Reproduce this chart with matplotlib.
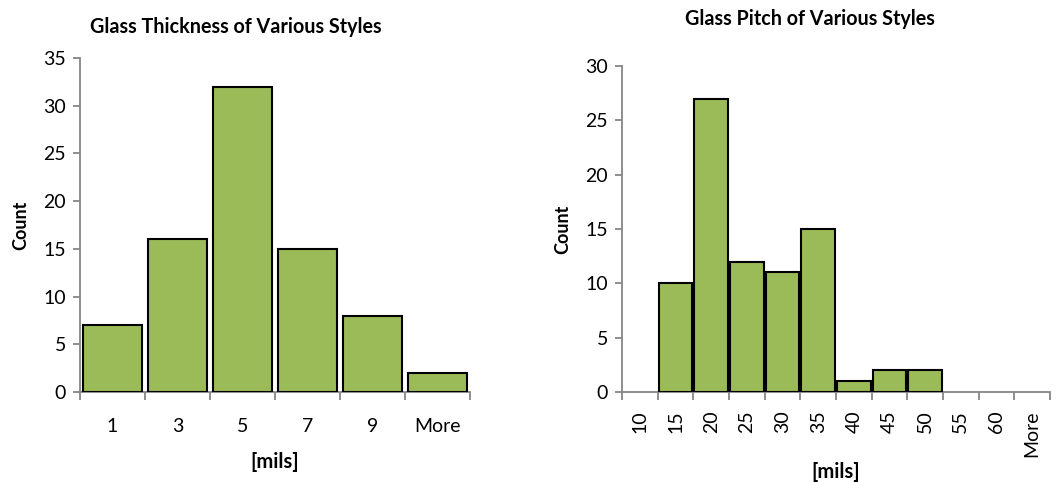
import matplotlib
matplotlib.use('Agg')
import matplotlib.pyplot as plt
import numpy as np

plt.rcParams['font.family'] = ['Lato', 'DejaVu Sans']

# left chart: glass thickness
thick_bins = ['1', '3', '5', '7', '9', 'More']
thick_counts = [7, 16, 32, 15, 8, 2]

# right chart: glass pitch
pitch_bins = ['10', '15', '20', '25', '30', '35', '40', '45', '50', '55', '60', 'More']
pitch_counts = [0, 10, 27, 12, 11, 15, 1, 2, 2, 0, 0, 0]

bar_color = '#9BBB59'
axis_color = '#868686'

fig = plt.figure(figsize=(10.57, 4.82), dpi=100)
W, H = 1057, 482

def style_axes(ax, n, labels, ymax, rot, pad):
    for s in ['top', 'right']:
        ax.spines[s].set_visible(False)
    for s in ['left', 'bottom']:
        ax.spines[s].set_color(axis_color)
        ax.spines[s].set_linewidth(1.3)
    ax.set_xlim(-0.5, n - 0.5)
    ax.set_ylim(0, ymax)
    ax.set_yticks(np.arange(0, ymax + 1, 5))
    ax.tick_params(axis='y', length=5, width=1.3, color=axis_color, labelsize=14, pad=5)
    # category labels at centres, tick marks at the boundaries
    ax.set_xticks(np.arange(n))
    ax.set_xticklabels(labels, rotation=rot)
    ax.tick_params(axis='x', which='major', length=0, labelsize=14, pad=pad)
    ax.set_xticks(np.arange(n + 1) - 0.5, minor=True)
    ax.tick_params(axis='x', which='minor', length=6, width=1.3, color=axis_color)
    ax.set_ylabel('Count', fontsize=13, fontweight='bold', labelpad=10)
    ax.set_xlabel('[mils]', fontsize=14.5, fontweight='bold')

def draw_bars(ax, counts, width):
    x = np.arange(len(counts))
    lw = [1.5 if c > 0 else 0 for c in counts]
    ax.bar(x, counts, width=width, color=bar_color, edgecolor='black', linewidth=lw, zorder=3)

# Left chart
ax1 = fig.add_axes([80 / W, 1 - 392 / H, 390 / W, 334 / H])
draw_bars(ax1, thick_counts, 0.92)
style_axes(ax1, len(thick_bins), thick_bins, 35, 0, 19)
ax1.xaxis.labelpad = 12
ax1.set_title('Glass Thickness of Various Styles', fontsize=14.2, fontweight='bold', x=0.4, y=1.05)

# Right chart
ax2 = fig.add_axes([622 / W, 1 - 392 / H, 428 / W, 326 / H])
draw_bars(ax2, pitch_counts, 0.94)
style_axes(ax2, len(pitch_bins), pitch_bins, 30, 90, 13)
ax2.xaxis.labelpad = 4
ax2.set_title('Glass Pitch of Various Styles', fontsize=14.2, fontweight='bold', x=0.44, y=1.1)

fig.savefig('out.png', dpi=100)
